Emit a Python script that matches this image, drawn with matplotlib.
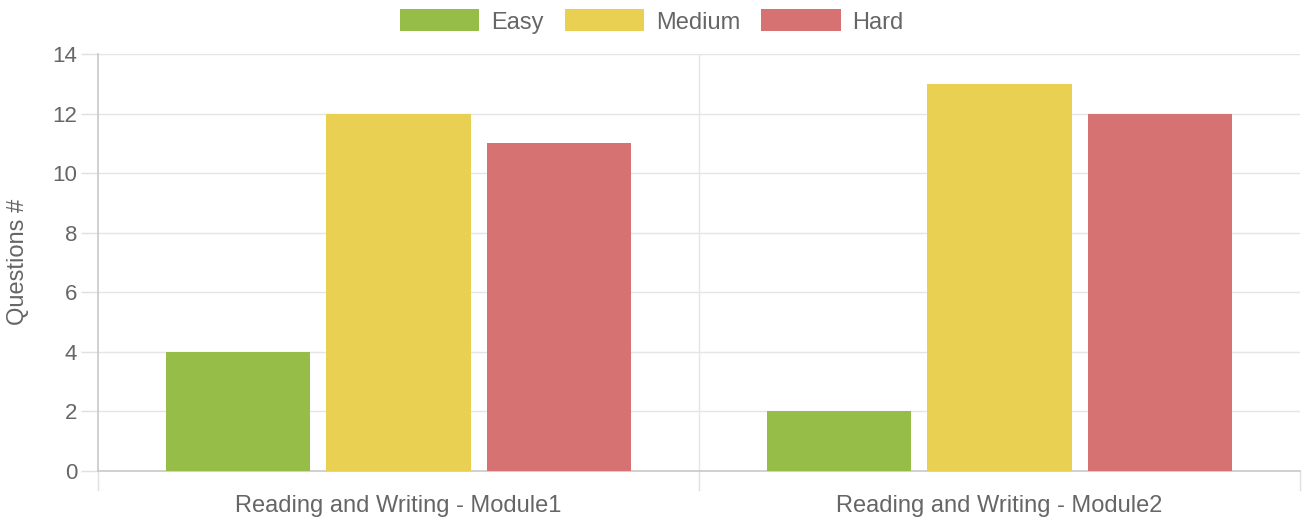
import matplotlib
matplotlib.use("Agg")
import matplotlib.pyplot as plt
import numpy as np

categories = ["Reading and Writing - Module1", "Reading and Writing - Module2"]
series_names = ["Easy", "Medium", "Hard"]
easy = [4, 2]
medium = [12, 13]
hard = [11, 12]
yticks = [0, 2, 4, 6, 8, 10, 12, 14]

colors = ["#96BD48", "#E9CF52", "#D67272"]
W, H = 1304, 519
fig = plt.figure(figsize=(W / 100, H / 100), dpi=100)
ax = fig.add_axes([98 / W, (H - 471) / H, (1300 - 98) / W, (471 - 54) / H])

plt.rcParams['font.family'] = ['Liberation Sans', 'DejaVu Sans']
txtc = "#666666"
fs = 17
fsy = 16

x = np.arange(len(categories))
slot = 0.8 / 3
bw = slot * 0.9
for i, (vals, name) in enumerate(zip([easy, medium, hard], series_names)):
    ax.bar(x + (i - 1) * slot, vals, width=bw, color=colors[i], label=name, zorder=3)

ax.set_xlim(-0.5, len(categories) - 0.5)
ax.set_ylim(0, 14)
ax.set_yticks(yticks)
ax.set_yticklabels([str(t) for t in yticks], family=['Liberation Sans'], fontsize=fsy, color=txtc)
ax.set_xticks(x)
ax.set_xticklabels(categories, family=['Liberation Sans'], fontsize=fs, color=txtc)
ax.tick_params(axis='x', length=0, pad=17.5)
ax.tick_params(axis='y', length=12, color="#e0e0e0", width=1, pad=3)

for t in yticks[1:]:
    ax.axhline(t, color="#e5e5e5", lw=1, zorder=1)
# category boundary grid lines
for b in [0.5]:
    ax.axvline(b, color="#e5e5e5", lw=1, zorder=1)
# boundary ticks below axis
for b in [-0.5, 0.5, 1.5]:
    ax.plot([b, b], [0, -0.65], color="#e0e0e0", lw=1, clip_on=False, zorder=1)

for s in ["top", "right"]:
    ax.spines[s].set_visible(False)
ax.spines["left"].set_color("#c8c8c8")
ax.spines["bottom"].set_color("#c8c8c8")
ax.spines["left"].set_linewidth(1.2)
ax.spines["bottom"].set_linewidth(1.2)

fig.text(18 / W, (H - 262) / H, "Questions #", rotation=90, va="center", ha="center",
         fontsize=fs, color=txtc, family=['Liberation Sans'])

leg = fig.legend(loc="center", bbox_to_anchor=(0.5, (H - 21.5) / H), ncol=3, frameon=False,
                 handlelength=3.35, handleheight=1.05, handletextpad=0.5,
                 columnspacing=0.9, borderpad=0.0, prop={'family': 'Liberation Sans', 'size': fs})
for t in leg.get_texts():
    t.set_color(txtc)

fig.savefig("out.png", dpi=100)
